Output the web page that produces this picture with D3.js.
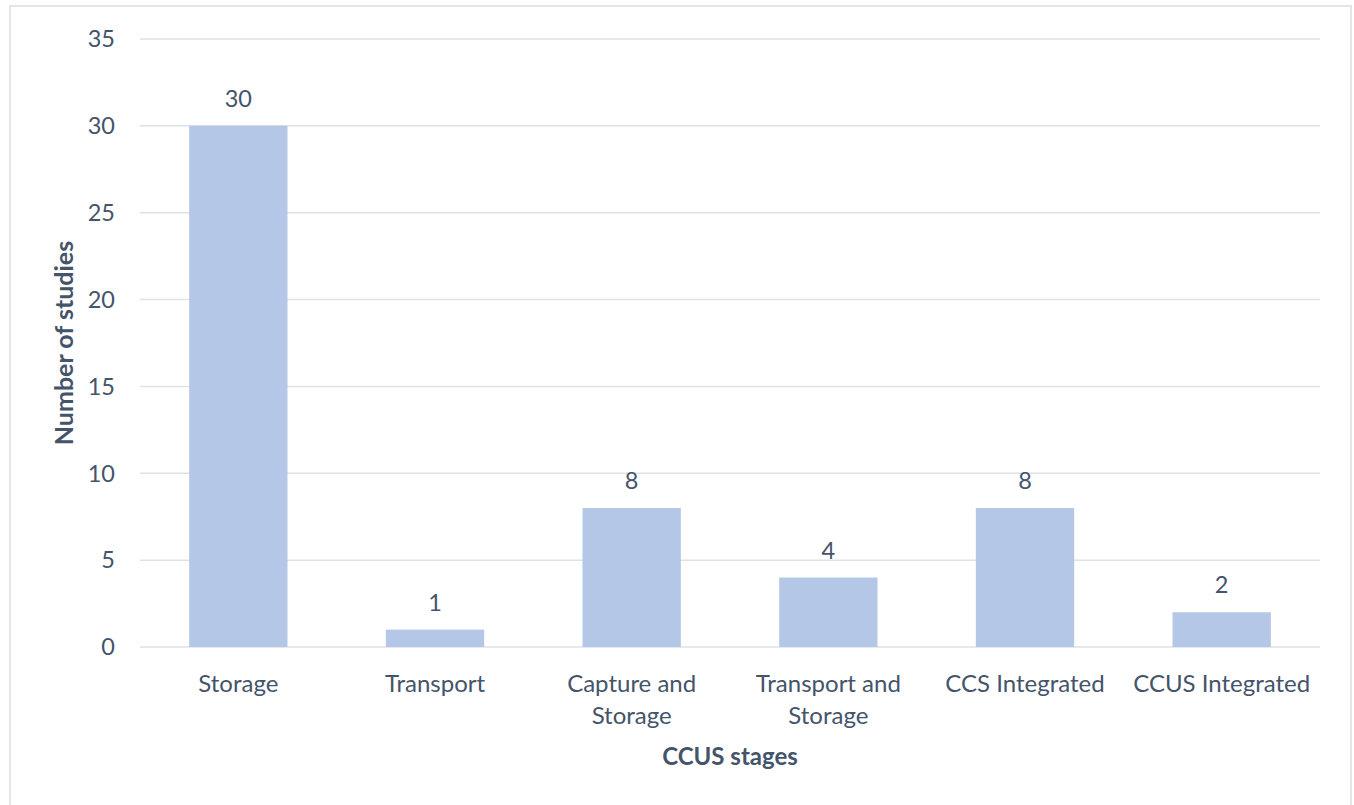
<!DOCTYPE html>
<html>
<head>
<meta charset="utf-8">
<script src="https://cdn.jsdelivr.net/npm/d3@7"></script>
<style>
  body { margin: 0; background: #fff; }
  text { font-family: Lato, "Open Sans", sans-serif; fill: #44546a; }
</style>
</head>
<body>
<svg id="chart" width="1354" height="805"></svg>
<script>
// chart data
const stages = ["Storage", "Transport", "Capture and Storage", "Transport and Storage", "CCS Integrated", "CCUS Integrated"];
const stageLines = [["Storage"], ["Transport"], ["Capture and", "Storage"], ["Transport and", "Storage"], ["CCS Integrated"], ["CCUS Integrated"]];
const studies = [30, 1, 8, 4, 8, 2];
const yTicks = [0, 5, 10, 15, 20, 25, 30, 35];

const svg = d3.select("#chart");

// outer frame (bottom edge runs off the picture)
svg.append("rect")
  .attr("x", 10).attr("y", 6)
  .attr("width", 1341).attr("height", 820)
  .attr("fill", "none")
  .attr("stroke", "#e1e5ec")
  .attr("stroke-width", 2);

const margin = { left: 140, right: 34, top: 39, bottom: 158 };
const width = 1354 - margin.left - margin.right;
const height = 805 - margin.top - margin.bottom;

const g = svg.append("g")
  .attr("transform", "translate(" + margin.left + "," + margin.top + ")");

const x = d3.scaleBand().domain(stages).range([0, width]).paddingInner(0.5).paddingOuter(0.25);
const y = d3.scaleLinear().domain([0, 35]).range([height, 0]);

// gridlines
g.selectAll(".grid")
  .data(yTicks)
  .enter()
  .append("line")
  .attr("x1", 0).attr("x2", width)
  .attr("y1", (d) => y(d)).attr("y2", (d) => y(d))
  .attr("stroke", "#dde1e8")
  .attr("stroke-width", 1.5);

// y tick labels
g.selectAll(".ytick")
  .data(yTicks)
  .enter()
  .append("text")
  .attr("x", -25)
  .attr("y", (d) => y(d))
  .attr("dy", "0.35em")
  .attr("text-anchor", "end")
  .attr("font-size", 23.5)
  .text((d) => d);

// bars
g.selectAll(".bar")
  .data(studies)
  .enter()
  .append("rect")
  .attr("x", (d, i) => x(stages[i]))
  .attr("y", (d) => y(d))
  .attr("width", x.bandwidth())
  .attr("height", (d) => height - y(d))
  .attr("fill", "#b4c7e7");

// value labels
g.selectAll(".val")
  .data(studies)
  .enter()
  .append("text")
  .attr("x", (d, i) => x(stages[i]) + x.bandwidth() / 2)
  .attr("y", (d) => y(d) - 19)
  .attr("text-anchor", "middle")
  .attr("font-size", 23.5)
  .text((d) => d);

// category labels
const cat = g.selectAll(".cat")
  .data(stageLines)
  .enter()
  .append("text")
  .attr("text-anchor", "middle")
  .attr("font-size", 24)
  .attr("transform", (d, i) => "translate(" + (x(stages[i]) + x.bandwidth() / 2) + "," + (height + 45) + ")");

cat.selectAll("tspan")
  .data((d) => d)
  .enter()
  .append("tspan")
  .attr("x", 0)
  .attr("dy", (d, i) => (i === 0 ? 0 : 32))
  .text((d) => d);

// axis titles
svg.append("text")
  .attr("x", margin.left + width / 2)
  .attr("y", 765)
  .attr("text-anchor", "middle")
  .attr("font-size", 24)
  .attr("font-weight", "bold")
  .text("CCUS stages");

svg.append("text")
  .attr("transform", "translate(73," + (margin.top + height / 2 + 0) + ") rotate(-90)")
  .attr("text-anchor", "middle")
  .attr("font-size", 25)
  .attr("font-weight", "bold")
  .text("Number of studies");
</script>
</body>
</html>
